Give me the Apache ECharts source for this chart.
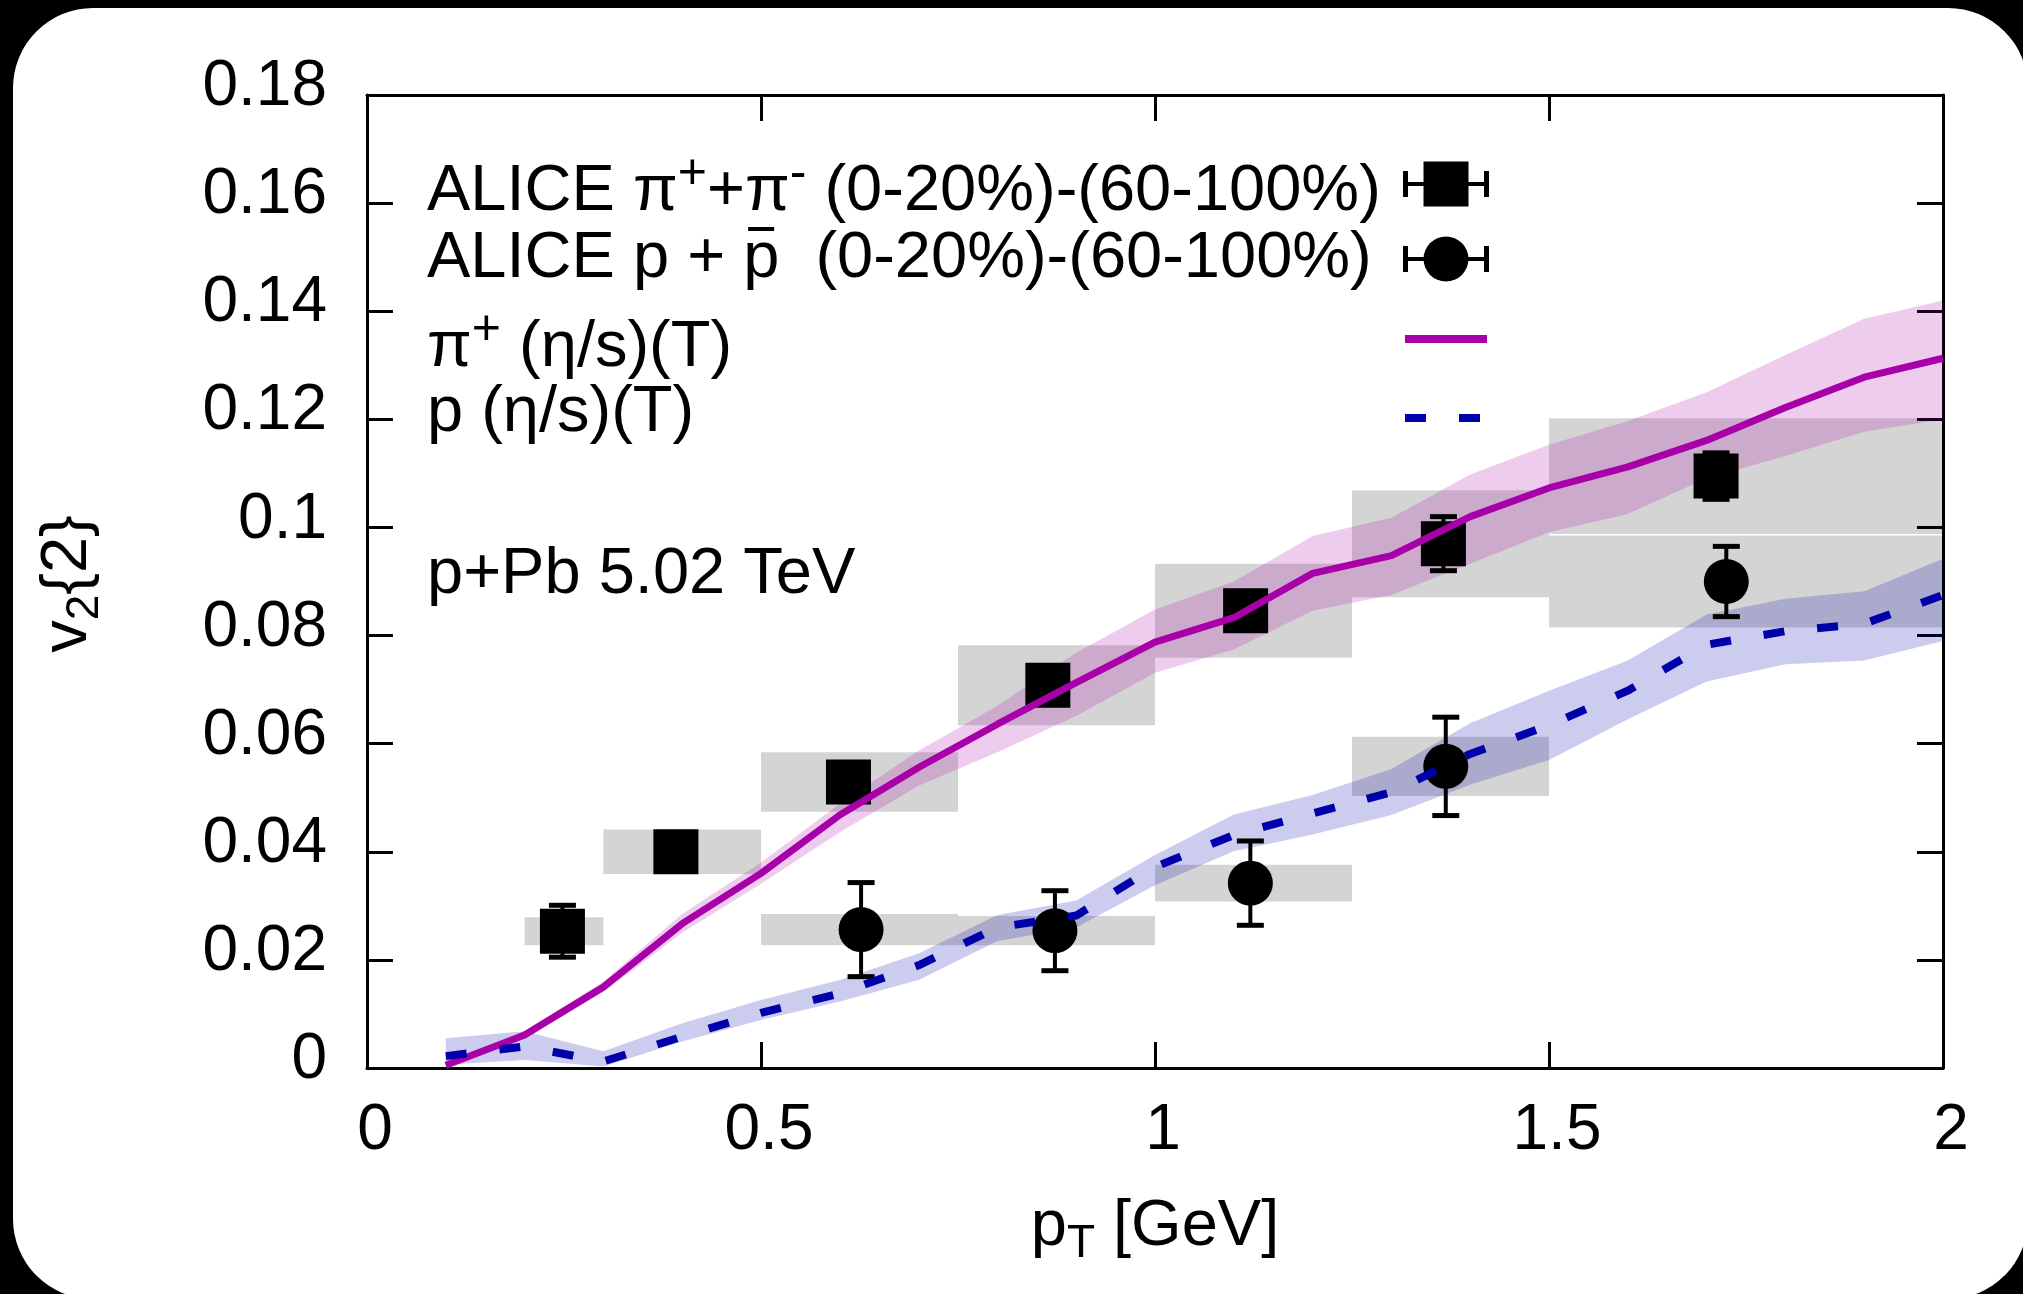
<!DOCTYPE html>
<html>
<head>
<meta charset="utf-8">
<script src="https://cdn.jsdelivr.net/npm/echarts@6.0.0/dist/echarts.min.js"></script>
<style>
  html, body { margin: 0; padding: 0; width: 2023px; height: 1294px; overflow: hidden; background: #000; }
  #frame { position: absolute; left: 13px; top: 8px; width: 2015px; height: 1291px; background: #fff; border-radius: 80px; }
  #chart { position: absolute; left: 0; top: 0; width: 2023px; height: 1294px; }
</style>
</head>
<body>
<div id="frame"></div>
<div id="chart"></div>
<script>
// ---- ALICE v2{2}, pi+ + pi-  (0-20%)-(60-100%) ----
const pionPt    = [0.248, 0.392, 0.611, 0.864, 1.115, 1.366, 1.712];
const pionV2    = [0.0253, 0.0400, 0.0529, 0.0708, 0.0846, 0.0970, 0.1095];
const pionStat  = [0.0048, 0.0020, 0.0020, 0.0025, 0.0025, 0.0050, 0.0043];
const pionSys   = [0.0026, 0.0041, 0.0055, 0.0074, 0.0087, 0.0099, 0.0107];
const pionBinLo = [0.2, 0.3, 0.5, 0.75, 1.0, 1.25, 1.5];
const pionBinHi = [0.3, 0.5, 0.75, 1.0, 1.25, 1.5, 2.0];

// ---- ALICE v2{2}, p + pbar  (0-20%)-(60-100%) ----
const protonPt    = [0.627, 0.873, 1.121, 1.369, 1.725];
const protonV2    = [0.0256, 0.0254, 0.0342, 0.0558, 0.0900];
const protonStat  = [0.0087, 0.0074, 0.0078, 0.0091, 0.0065];
const protonSys   = [0.0029, 0.0027, 0.0034, 0.0055, 0.0085];
const protonBinLo = [0.5, 0.75, 1.0, 1.25, 1.5];
const protonBinHi = [0.75, 1.0, 1.25, 1.5, 2.0];

// ---- hydro with temperature-dependent eta/s ----
const theoryPt = [0.1, 0.2, 0.3, 0.4, 0.5, 0.6, 0.7, 0.8, 0.9, 1.0,
                  1.1, 1.2, 1.3, 1.4, 1.5, 1.6, 1.7, 1.8, 1.9, 2.0];
const pionTheory   = [0.0005, 0.0061, 0.0150, 0.0267, 0.0360, 0.0468, 0.0556, 0.0636, 0.0713, 0.0788,
                      0.0833, 0.0915, 0.0948, 0.1020, 0.1073, 0.1112, 0.1161, 0.1222, 0.1278, 0.1313];
const pionTheoryHi = [0.0010, 0.0068, 0.0160, 0.0285, 0.0380, 0.0489, 0.0587, 0.0670, 0.0768, 0.0848,
                      0.0900, 0.0984, 0.1018, 0.1098, 0.1153, 0.1197, 0.1250, 0.1319, 0.1386, 0.1420];
const pionTheoryLo = [0.0000, 0.0055, 0.0140, 0.0250, 0.0341, 0.0436, 0.0522, 0.0584, 0.0651, 0.0731,
                      0.0774, 0.0846, 0.0875, 0.0933, 0.0991, 0.1025, 0.1091, 0.1132, 0.1177, 0.1200];
const protonTheory   = [0.0022, 0.0040, 0.0012, 0.0058, 0.0102, 0.0138, 0.0190, 0.0260, 0.0282, 0.0372,
                        0.0431, 0.0471, 0.0510, 0.0581, 0.0634, 0.0698, 0.0783, 0.0808, 0.0822, 0.0875];
const protonTheoryHi = [0.0055, 0.0068, 0.0031, 0.0083, 0.0126, 0.0163, 0.0212, 0.0283, 0.0310, 0.0394,
                        0.0469, 0.0505, 0.0553, 0.0638, 0.0698, 0.0754, 0.0839, 0.0868, 0.0882, 0.0942];
const protonTheoryLo = [0.0006, 0.0015, 0.0003, 0.0049, 0.0089, 0.0123, 0.0163, 0.0235, 0.0260, 0.0338,
                        0.0401, 0.0432, 0.0468, 0.0524, 0.0570, 0.0645, 0.0715, 0.0747, 0.0754, 0.0790];

// ---- axes ----
const xTicks = [0, 0.5, 1, 1.5, 2];
const yTicks = [0, 0.02, 0.04, 0.06, 0.08, 0.1, 0.12, 0.14, 0.16, 0.18];

// ---- styling ----
const FONT = '"Liberation Sans", Arial, Helvetica, sans-serif';
const MAGENTA = '#a800a8';
const NAVY = '#0000aa';
const SYS_FILL = 'rgba(0,0,0,0.17)';
const BIG = 65, SUP = 50, SUB = 46, TICK_FONT = 64;

// text run layout (superscripts / subscripts as separate runs)
const mctx = document.createElement('canvas').getContext('2d');
function textWidth(t, size) { mctx.font = size + 'px ' + FONT; return mctx.measureText(t).width; }
const MID = 0.27; // vertical-centre line above the alphabetic baseline, in em
function layoutRuns(x0, baseline, runs) {
  let x = x0;
  const els = [], pos = [];
  runs.forEach(([t, size, rise]) => {
    pos.push(x);
    els.push({
      type: 'text', x: x, y: baseline - (rise || 0) - MID * size, silent: true,
      style: { text: t, fontSize: size, fontFamily: FONT, fill: '#000',
               textAlign: 'left', textVerticalAlign: 'middle', align: 'left', verticalAlign: 'middle' }
    });
    x += textWidth(t, size);
  });
  return { els, width: x - x0, pos };
}
function runsWidth(runs) { return runs.reduce((s, r) => s + textWidth(r[0], r[1]), 0); }

// ---- legend and annotations ----
const graphics = [];
const TX = 427;
const rowY = [184, 259, 339, 418];
const rowBase = [210, 277, 366, 431];

const row1 = layoutRuns(TX, rowBase[0], [
  ['ALICE \u03c0', BIG], ['+', SUP, 22], ['+\u03c0', BIG], ['-', SUP, 22], [' (0-20%)-(60-100%)', BIG]
]);
graphics.push(...row1.els);
const row2 = layoutRuns(TX, rowBase[1], [
  ['ALICE p + ', BIG], ['p', BIG], ['  (0-20%)-(60-100%)', BIG]
]);
graphics.push(...row2.els);
graphics.push({ type: 'rect', silent: true, shape: { x: row2.pos[1] + 5, y: 227, width: 26, height: 4 }, style: { fill: '#000' } });
graphics.push(...layoutRuns(TX, rowBase[2], [['\u03c0', BIG], ['+', SUP, 22], [' (\u03b7/s)(T)', BIG]]).els);
graphics.push(...layoutRuns(TX, rowBase[3], [['p (\u03b7/s)(T)', BIG]]).els);
graphics.push(...layoutRuns(TX, 593, [['p+Pb 5.02 TeV', BIG]]).els);

// legend samples
const LX = 1446;
[0, 1].forEach(r => {
  const y = rowY[r];
  graphics.push({ type: 'line', silent: true, shape: { x1: 1405, y1: y, x2: 1487, y2: y }, style: { stroke: '#000', lineWidth: 4 } });
  graphics.push({ type: 'line', silent: true, shape: { x1: 1405.5, y1: y - 13, x2: 1405.5, y2: y + 13 }, style: { stroke: '#000', lineWidth: 5 } });
  graphics.push({ type: 'line', silent: true, shape: { x1: 1486.5, y1: y - 13, x2: 1486.5, y2: y + 13 }, style: { stroke: '#000', lineWidth: 5 } });
});
graphics.push({ type: 'rect', silent: true, shape: { x: LX - 22.5, y: rowY[0] - 22.5, width: 45, height: 45 }, style: { fill: '#000' } });
graphics.push({ type: 'circle', silent: true, shape: { cx: LX, cy: rowY[1], r: 22.5 }, style: { fill: '#000' } });
graphics.push({ type: 'line', silent: true, shape: { x1: 1405, y1: rowY[2], x2: 1487, y2: rowY[2] }, style: { stroke: MAGENTA, lineWidth: 8 } });
graphics.push({ type: 'line', silent: true, shape: { x1: 1405, y1: rowY[3], x2: 1487, y2: rowY[3] },
                style: { stroke: NAVY, lineWidth: 8, lineDash: [21, 33] } });

// axis titles
const xTitleRuns = [['p', BIG], ['T', SUB, -12], [' [GeV]', BIG]];
graphics.push(...layoutRuns(1155 - runsWidth(xTitleRuns) / 2, 1245, xTitleRuns).els);
const yTitleRuns = [['v', BIG], ['2', SUB, -12], ['{2}', BIG]];
const yTitle = layoutRuns(-runsWidth(yTitleRuns) / 2, 0, yTitleRuns);
graphics.push({ type: 'group', x: 86, y: 584, rotation: Math.PI / 2, silent: true, children: yTitle.els });

// ---- series data built from the arrays ----
const pionBoxRows   = pionPt.map((_, i) => [pionBinLo[i], pionBinHi[i], pionV2[i] - pionSys[i], pionV2[i] + pionSys[i]]);
const protonBoxRows = protonPt.map((_, i) => [protonBinLo[i], protonBinHi[i], protonV2[i] - protonSys[i], protonV2[i] + protonSys[i]]);
const pionErrRows   = pionPt.map((x, i) => [x, pionV2[i] - pionStat[i], pionV2[i] + pionStat[i]]);
const protonErrRows = protonPt.map((x, i) => [x, protonV2[i] - protonStat[i], protonV2[i] + protonStat[i]]);
const pionPoints    = pionPt.map((x, i) => [x, pionV2[i]]);
const protonPoints  = protonPt.map((x, i) => [x, protonV2[i]]);
const pionLine      = theoryPt.map((x, i) => [x, pionTheory[i]]);
const protonLine    = theoryPt.map((x, i) => [x, protonTheory[i]]);
const pionBand      = theoryPt.map((x, i) => [x, pionTheoryLo[i], pionTheoryHi[i]]);
const protonBand    = theoryPt.map((x, i) => [x, protonTheoryLo[i], protonTheoryHi[i]]);

function renderBox(params, api) {
  const a = api.coord([api.value(0), api.value(3)]);
  const b = api.coord([api.value(1), api.value(2)]);
  return { type: 'rect', shape: { x: a[0], y: a[1], width: b[0] - a[0], height: b[1] - a[1] }, style: { fill: SYS_FILL } };
}
function renderErr(params, api) {
  const lo = api.coord([api.value(0), api.value(1)]);
  const hi = api.coord([api.value(0), api.value(2)]);
  const hw = 13.5;
  return { type: 'group', children: [
    { type: 'line', shape: { x1: lo[0], y1: lo[1], x2: hi[0], y2: hi[1] }, style: { stroke: '#000', lineWidth: 4 } },
    { type: 'line', shape: { x1: lo[0] - hw, y1: lo[1], x2: lo[0] + hw, y2: lo[1] }, style: { stroke: '#000', lineWidth: 5 } },
    { type: 'line', shape: { x1: hi[0] - hw, y1: hi[1], x2: hi[0] + hw, y2: hi[1] }, style: { stroke: '#000', lineWidth: 5 } }
  ] };
}
function bandRenderer(rows, fill) {
  return function (params, api) {
    if (params.dataIndex !== 0) return null;
    const upper = rows.map(r => api.coord([r[0], r[2]]));
    const lower = rows.map(r => api.coord([r[0], r[1]])).reverse();
    return { type: 'polygon', shape: { points: upper.concat(lower) }, style: { fill: fill } };
  };
}

const axisLineStyle = { show: true, onZero: false, lineStyle: { color: '#000', width: 3 } };
const axisTickStyle = { show: true, inside: true, length: 26, lineStyle: { color: '#000', width: 3 } };

const option = {
  animation: false,
  backgroundColor: 'transparent',
  grid: { left: 367, right: 80, top: 95, bottom: 226, containLabel: false, outerBoundsMode: 'none' },
  xAxis: [
    { type: 'value', min: xTicks[0], max: xTicks[xTicks.length - 1], interval: 0.5, position: 'bottom',
      axisLine: axisLineStyle, axisTick: axisTickStyle, splitLine: { show: false },
      axisLabel: { show: true, color: '#000', fontSize: TICK_FONT, fontFamily: FONT, margin: 31,
                   padding: [0, 0, 0, 16], showMinLabel: true, showMaxLabel: true,
                   formatter: v => String(+v.toFixed(1)) } },
    { type: 'value', min: xTicks[0], max: xTicks[xTicks.length - 1], interval: 0.5, position: 'top',
      axisLine: axisLineStyle, axisTick: axisTickStyle, splitLine: { show: false }, axisLabel: { show: false } }
  ],
  yAxis: [
    { type: 'value', min: yTicks[0], max: yTicks[yTicks.length - 1], interval: 0.02, position: 'left',
      axisLine: axisLineStyle, axisTick: axisTickStyle, splitLine: { show: false },
      axisLabel: { show: true, color: '#000', fontSize: TICK_FONT, fontFamily: FONT, margin: 40,
                   verticalAlign: 'bottom', lineHeight: 15, showMinLabel: true, showMaxLabel: true,
                   formatter: v => String(+v.toFixed(2)) } },
    { type: 'value', min: yTicks[0], max: yTicks[yTicks.length - 1], interval: 0.02, position: 'right',
      axisLine: axisLineStyle, axisTick: axisTickStyle, splitLine: { show: false }, axisLabel: { show: false } }
  ],
  graphic: { elements: graphics },
  series: [
    { type: 'custom', name: 'pion sys', data: pionBoxRows, renderItem: renderBox, z: 1, clip: true,
      encode: { x: [0, 1], y: [2, 3] }, silent: true },
    { type: 'custom', name: 'proton sys', data: protonBoxRows, renderItem: renderBox, z: 1, clip: true,
      encode: { x: [0, 1], y: [2, 3] }, silent: true },
    { type: 'custom', name: 'pion band', data: pionBand, renderItem: bandRenderer(pionBand, 'rgba(170,0,170,0.2)'),
      z: 2, clip: true, encode: { x: 0, y: [1, 2] }, silent: true },
    { type: 'custom', name: 'proton band', data: protonBand, renderItem: bandRenderer(protonBand, 'rgba(0,0,170,0.2)'),
      z: 2, clip: true, encode: { x: 0, y: [1, 2] }, silent: true },
    { type: 'custom', name: 'pion stat', data: pionErrRows, renderItem: renderErr, z: 3,
      encode: { x: 0, y: [1, 2] }, silent: true },
    { type: 'custom', name: 'proton stat', data: protonErrRows, renderItem: renderErr, z: 3,
      encode: { x: 0, y: [1, 2] }, silent: true },
    { type: 'scatter', name: 'ALICE pi', data: pionPoints, symbol: 'rect', symbolSize: 45,
      itemStyle: { color: '#000', opacity: 1 }, z: 4, silent: true },
    { type: 'scatter', name: 'ALICE p', data: protonPoints, symbol: 'circle', symbolSize: 45,
      itemStyle: { color: '#000', opacity: 1 }, z: 4, silent: true },
    { type: 'line', name: 'pi+ (eta/s)(T)', data: pionLine, showSymbol: false, symbol: 'none', z: 5, silent: true,
      lineStyle: { color: MAGENTA, width: 7 } },
    { type: 'line', name: 'p (eta/s)(T)', data: protonLine, showSymbol: false, symbol: 'none', z: 5, silent: true,
      lineStyle: { color: NAVY, width: 8, type: [21, 33] } }
  ]
};

const chart = echarts.init(document.getElementById('chart'), null, { renderer: 'canvas' });
chart.setOption(option);
</script>
</body>
</html>
